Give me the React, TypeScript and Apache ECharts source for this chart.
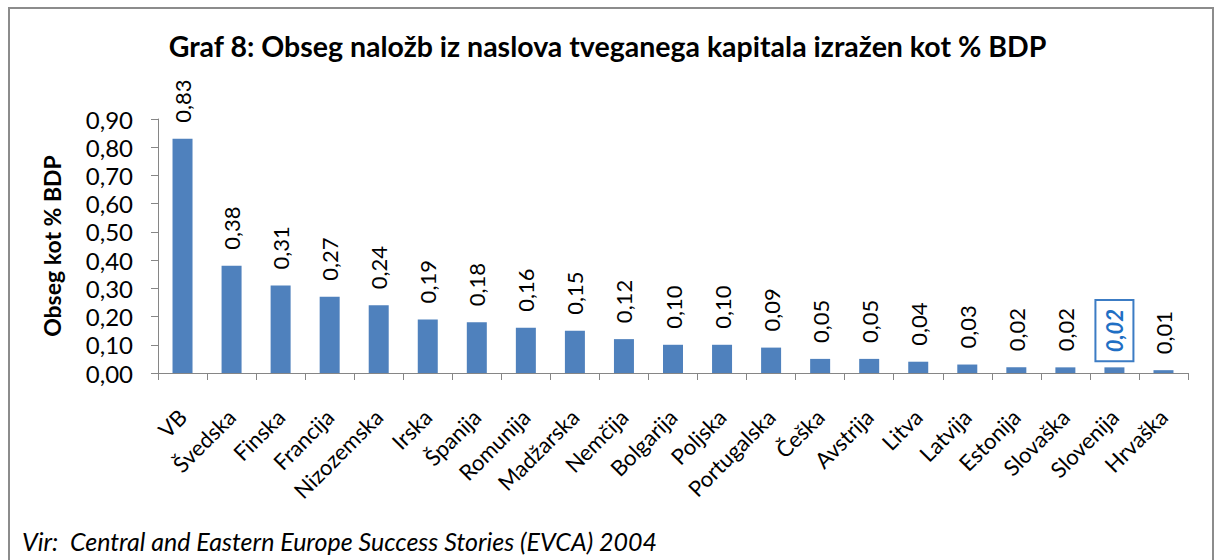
import React, { useEffect, useRef } from "react";
import * as echarts from "echarts";

const categories = [
  "VB", "Švedska", "Finska", "Francija", "Nizozemska", "Irska", "Španija",
  "Romunija", "Madžarska", "Nemčija", "Bolgarija", "Poljska", "Portugalska",
  "Češka", "Avstrija", "Litva", "Latvija", "Estonija", "Slovaška", "Slovenija", "Hrvaška",
];
const values = [
  0.83, 0.38, 0.31, 0.27, 0.24, 0.19, 0.18, 0.16, 0.15, 0.12, 0.10, 0.10, 0.09,
  0.05, 0.05, 0.04, 0.03, 0.02, 0.02, 0.02, 0.01,
];
const highlighted = "Slovenija";

const titleText = "Graf 8: Obseg naložb iz naslova tveganega kapitala izražen kot % BDP";
const yAxisName = "Obseg kot % BDP";
const sourceText = "Vir:  Central and Eastern Europe Success Stories (EVCA) 2004";

const FONT = "Lato, 'Open Sans', sans-serif";
const fmt = (v: number) => v.toFixed(2).replace(".", ",");

export default function App() {
  const ref = useRef<HTMLDivElement>(null);
  useEffect(() => {
    if (!ref.current) return;
    const chart = echarts.init(ref.current, null, { renderer: "svg" });
    const data = values.map((v, i) => {
      if (categories[i] === highlighted) {
        return {
          value: v,
          label: {
            fontStyle: "italic",
            fontWeight: "bold",
            color: "#1F6FC4",
            borderColor: "#3C7CC4",
            borderWidth: 2,
            padding: [8, 9, 8, 9],
            distance: 6,
          },
        };
      }
      return v;
    });
    chart.setOption({
      animation: false,
      backgroundColor: "#ffffff",
      textStyle: { fontFamily: FONT },
      title: {
        text: titleText,
        left: "center",
        top: 26,
        textStyle: { fontFamily: FONT, fontSize: 28.5, fontWeight: "bold", color: "#000" },
      },
      graphic: [
        {
          type: "rect",
          shape: { x: 9, y: 8, width: 1204, height: 570 },
          style: { fill: "none", stroke: "#8c8c8c", lineWidth: 2 },
          silent: true,
        },
        {
          type: "text",
          left: 22,
          top: 528,
          style: {
            text: sourceText,
            fontFamily: FONT,
            fontStyle: "italic",
            fontSize: 25,
            fill: "#000",
          },
        },
      ],
      grid: { left: 158, right: 27, top: 119, bottom: 187 },
      xAxis: {
        type: "category",
        data: categories,
        axisLine: { lineStyle: { color: "#868686", width: 1 } },
        axisTick: { show: true, length: 7, alignWithLabel: false, lineStyle: { color: "#868686" } },
        axisLabel: {
          interval: 0,
          rotate: 45,
          fontSize: 22,
          color: "#000",
          margin: 40,
          fontFamily: FONT,
        },
      },
      yAxis: {
        type: "value",
        min: 0,
        max: 0.9,
        interval: 0.1,
        name: yAxisName,
        nameLocation: "middle",
        nameRotate: 90,
        nameGap: 95,
        nameTextStyle: { fontFamily: FONT, fontSize: 23, fontWeight: "bold", color: "#000" },
        axisLine: { show: true, lineStyle: { color: "#868686", width: 1 } },
        axisTick: { show: true, length: 7, lineStyle: { color: "#868686" } },
        splitLine: { show: false },
        axisLabel: {
          formatter: (v: number) => fmt(v),
          fontSize: 24,
          color: "#000",
          margin: 25,
          fontFamily: FONT,
        },
      },
      series: [
        {
          type: "bar",
          data,
          barWidth: 20,
          itemStyle: { color: "#4F81BD" },
          label: {
            show: true,
            position: "top",
            rotate: 90,
            align: "left",
            verticalAlign: "middle",
            distance: 16,
            fontSize: 22,
            color: "#000",
            fontFamily: FONT,
            formatter: (p: any) => fmt(p.value),
          },
        },
      ],
    });
    return () => chart.dispose();
  }, []);
  return (
    <div
      ref={ref}
      style={{ position: "fixed", left: 0, top: 0, width: 1215, height: 560 }}
    />
  );
}
